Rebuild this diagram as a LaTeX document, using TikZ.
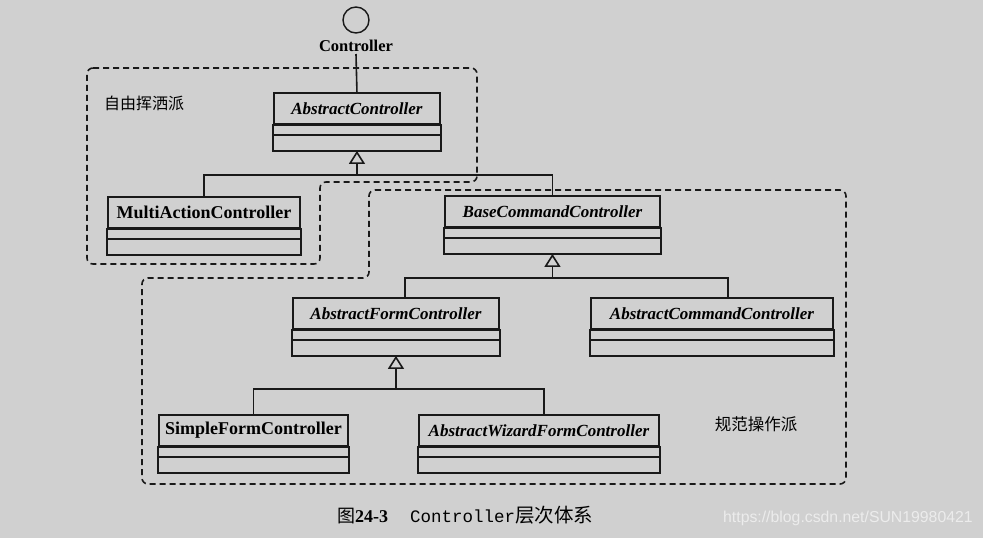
\documentclass[tikz,border=0pt]{standalone}
\usepackage{fontspec}
\setmainfont{Liberation Serif}
\setmonofont{Liberation Mono}
\newfontfamily\cjk{Noto Sans CJK SC}
\newfontfamily\wmfont{Liberation Sans}
\usetikzlibrary{arrows.meta, calc}
\definecolor{paper}{RGB}{208,208,208}
\definecolor{ink}{RGB}{25,25,25}
\definecolor{wmark}{RGB}{236,236,236}

\begin{document}
\begin{tikzpicture}[x=1pt, y=-1pt,
  cls/.style={draw=ink, line width=1.9pt, inner sep=0pt, anchor=north west,
    minimum height=31pt, font=\fontsize{18}{20}\selectfont\bfseries},
  acls/.style={cls, font=\fontsize{17}{20}\selectfont\bfseries\itshape},
  part/.style={draw=ink, line width=1.8pt},
  conn/.style={draw=ink, line width=1.6pt},
  gen/.style={conn, -{Triangle[open, length=13pt, width=16pt]}},
  group/.style={draw=ink, line width=1.6pt, dash pattern=on 6pt off 4pt, rounded corners=6pt}]
  \fill[paper] (0,0) rectangle (983,538);
  \useasboundingbox (0,0) rectangle (983,538);

  % the two groups
  \draw[group] (87,68) -- (477,68) -- (477,182) -- (320,182) -- (320,264) -- (87,264) -- cycle;
  \draw[group] (369,190) -- (846,190) -- (846,484) -- (142,484) -- (142,278) -- (369,278) -- cycle;
  \node[font=\cjk\fontsize{16}{18}\selectfont] (free) at (144,103) {自由挥洒派};
  \node[font=\cjk\fontsize{16.5}{18}\selectfont] (norm) at (756,424) {规范操作派};

  % interface
  \node[circle, draw=ink, line width=1.4pt, minimum size=26pt, inner sep=0pt] (ifc) at (356,20) {};
  \node[font=\fontsize{16.5}{18}\selectfont\bfseries, inner sep=2pt] (ctrl) at (356,46) {Controller};

  % classes (name part)
  \node[acls, minimum width=166pt] (ac) at (273,92) {AbstractController};
  \node[cls, minimum width=192pt] (mac) at (107,196) {MultiActionController};
  \node[acls, minimum width=215pt] (bcc) at (444,195) {BaseCommandController};
  \node[acls, minimum width=206pt] (afc) at (292,297) {AbstractFormController};
  \node[acls, minimum width=242pt] (acc) at (590,297) {AbstractCommandController};
  \node[cls, minimum width=189pt] (sfc) at (158,414) {SimpleFormController};
  \node[acls, minimum width=240pt] (awfc) at (418,414) {AbstractWizardFormController};

  % attribute and method parts
  \foreach \n in {ac,mac,bcc,afc,acc,sfc,awfc}{
    \draw[part] (\n.south west) rectangle ($(\n.south east)+(0,26)$);
    \draw[part] ($(\n.south west)+(0,10)$) -- ($(\n.south east)+(0,10)$);
    \coordinate (\n-bot) at ($(\n.south)+(0,26)$);
  }

  % generalisation
  \draw[conn] (ctrl.south) -- (ac.north);
  \coordinate (acbus) at ($(ac-bot)+(0,24)$);
  \coordinate (bccbus) at ($(bcc-bot)+(0,24)$);
  \coordinate (afcbus) at ($(afc-bot)+(0,33)$);
  \draw[gen] (acbus) -- (ac-bot);
  \draw[conn] (mac.north) |- (acbus);
  \draw[conn] (bcc.north) |- (acbus);
  \draw[gen] (bccbus) -- (bcc-bot);
  \draw[conn] ([xshift=9pt]afc.north) |- (bccbus);
  \draw[conn] ([xshift=16pt]acc.north) |- (bccbus);
  \draw[gen] (afcbus) -- (afc-bot);
  \draw[conn] (sfc.north) |- (afcbus);
  \draw[conn] ([xshift=5pt]awfc.north) |- (afcbus);

  % caption
  \node[anchor=west, inner sep=0pt, font=\fontsize{18}{20}\selectfont] (cap) at (337,515)
    {{\cjk 图}\textbf{24-3}\hspace{22pt}{\fontsize{17.5}{20}\selectfont\ttfamily Controller}{\cjk\fontsize{19.5}{20}\selectfont 层次体系}};
  \node[anchor=west, inner sep=0pt, text=wmark, font=\wmfont\fontsize{15.8}{18}\selectfont] (wm) at (723,518)
    {https://blog.csdn.net/SUN19980421};
\end{tikzpicture}
\end{document}
